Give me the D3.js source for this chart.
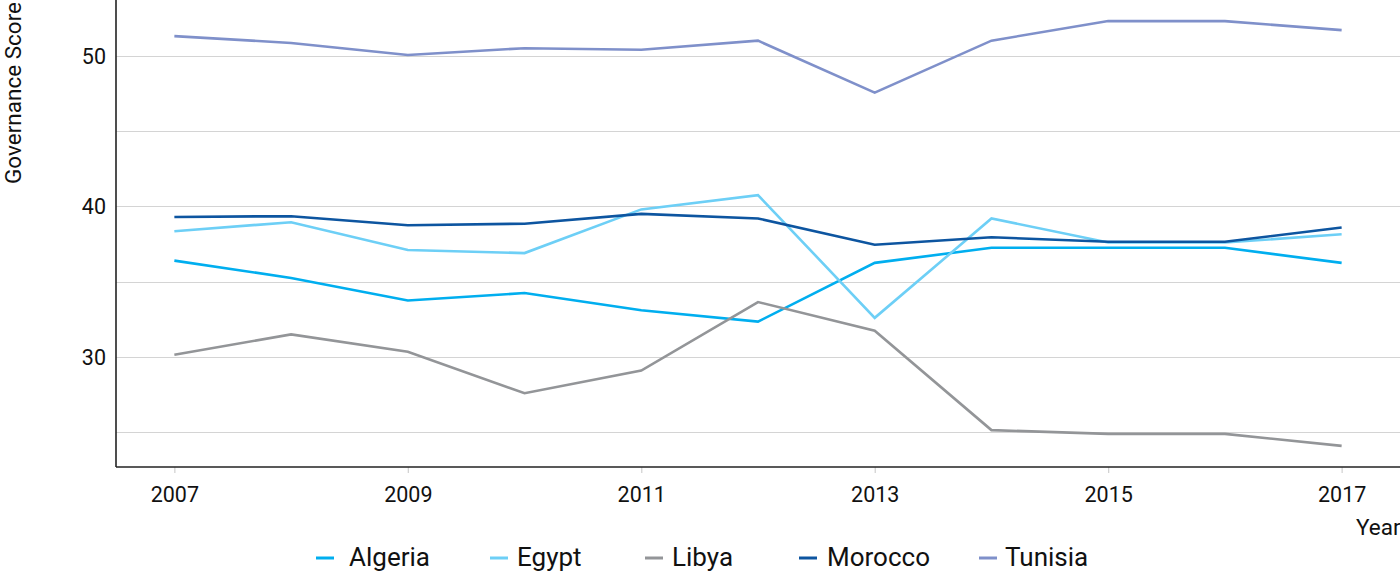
<!DOCTYPE html>
<html>
<head>
<meta charset="utf-8">
<script src="https://cdn.jsdelivr.net/npm/d3@7"></script>
<style>
  html, body { margin: 0; padding: 0; background: #fff; }
  svg { display: block; font-family: Roboto, "Noto Sans", sans-serif; }
</style>
</head>
<body>
<svg id="chart" width="1400" height="575"></svg>
<script>
const years = [2007, 2008, 2009, 2010, 2011, 2012, 2013, 2014, 2015, 2016, 2017];
const algeria = [36.4, 35.25, 33.75, 34.25, 33.1, 32.35, 36.25, 37.25, 37.25, 37.25, 36.25];
const egypt   = [38.35, 38.95, 37.1, 36.9, 39.8, 40.75, 32.6, 39.2, 37.6, 37.6, 38.15];
const libya   = [30.15, 31.5, 30.35, 27.6, 29.1, 33.65, 31.75, 25.15, 24.9, 24.9, 24.1];
const morocco = [39.3, 39.35, 38.75, 38.85, 39.5, 39.2, 37.45, 37.95, 37.65, 37.65, 38.6];
const tunisia = [51.3, 50.85, 50.05, 50.5, 50.4, 51.0, 47.55, 51.0, 52.3, 52.3, 51.7];
const seriesNames = ["Algeria", "Egypt", "Libya", "Morocco", "Tunisia"];
const seriesValues = [algeria, egypt, libya, morocco, tunisia];
const seriesColors = ["#00aeef", "#6dcff6", "#939598", "#0d55a0", "#7f90ca"];
const xTickYears = [2007, 2009, 2011, 2013, 2015, 2017];
const yTickValues = [25, 30, 35, 40, 45, 50];
const yLabelValues = [30, 40, 50];

(function () {
const svg = d3.select("#chart");
const mLeft = 116, mRight = 1400, mTop = 0, mBottom = 467;

const x = d3.scaleLinear().domain([2006.5, 2017.5]).range([mLeft, mRight]);
const y = d3.scaleLinear().domain([22.7, 53.7]).range([mBottom, mTop]);

// gridlines
svg.append("g")
  .selectAll("line")
  .data(yTickValues)
  .join("line")
  .attr("x1", mLeft).attr("x2", mRight)
  .attr("y1", d => Math.round(y(d)) + 0.5).attr("y2", d => Math.round(y(d)) + 0.5)
  .attr("stroke", "#d4d4d4").attr("stroke-width", 1.2);

// y labels
svg.append("g")
  .selectAll("text")
  .data(yLabelValues)
  .join("text")
  .attr("x", mLeft - 10).attr("y", d => y(d) + 8)
  .attr("text-anchor", "end")
  .attr("font-size", 21.5).attr("fill", "#111")
  .text(d => d);

// x axis
const xAxis = d3.axisBottom(x).tickValues(xTickYears).tickFormat(d3.format("d")).tickSize(6).tickPadding(14);
const gx = svg.append("g").attr("transform", `translate(0,${mBottom})`).call(xAxis);
gx.select(".domain").remove();
gx.selectAll(".tick line").attr("stroke", "#cfcfcf").attr("stroke-width", 1.2);
gx.selectAll(".tick text").attr("font-size", 21.5).attr("fill", "#111").attr("font-family", "Roboto, sans-serif");

// axis lines
svg.append("line").attr("x1", mLeft).attr("x2", mLeft).attr("y1", 0).attr("y2", mBottom)
  .attr("stroke", "#222").attr("stroke-width", 1.6);
svg.append("line").attr("x1", mLeft).attr("x2", mRight).attr("y1", mBottom).attr("y2", mBottom)
  .attr("stroke", "#222").attr("stroke-width", 1.6);

// lines
const line = d3.line().x((d, i) => x(years[i])).y(d => y(d));
svg.append("g")
  .selectAll("path")
  .data(seriesValues)
  .join("path")
  .attr("d", d => line(d))
  .attr("fill", "none")
  .attr("stroke", (d, i) => seriesColors[i])
  .attr("stroke-width", 2.6)
  .attr("stroke-linejoin", "miter");

// axis titles
svg.append("text")
  .attr("transform", "translate(21,2) rotate(-90)")
  .attr("text-anchor", "end")
  .attr("font-size", 22.5).attr("fill", "#111")
  .text("Governance Score");
svg.append("text")
  .attr("x", 1356).attr("y", 535)
  .attr("font-size", 22.5).attr("fill", "#111")
  .text("Year");

// legend
const legendX = [316, 490, 645, 799, 979];
const legendTextGap = [33, 27, 27, 28, 26];
const lg = svg.append("g");
seriesNames.forEach((name, i) => {
  lg.append("line")
    .attr("x1", legendX[i]).attr("x2", legendX[i] + 18)
    .attr("y1", 558).attr("y2", 558)
    .attr("stroke", seriesColors[i]).attr("stroke-width", 3);
  lg.append("text")
    .attr("x", legendX[i] + legendTextGap[i]).attr("y", 566)
    .attr("font-size", 26).attr("fill", "#111")
    .text(name);
});
})();
</script>
</body>
</html>
